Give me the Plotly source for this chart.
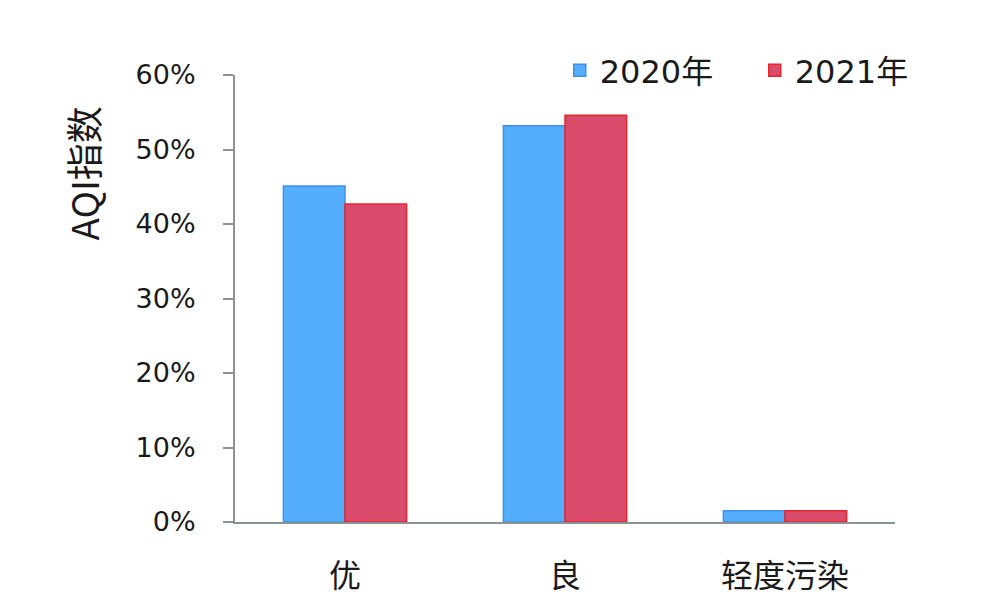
import plotly.graph_objects as go

categories = ["优", "良", "轻度污染"]
series_names = ["2020年", "2021年"]
values_2020 = [45.1, 53.2, 1.5]
values_2021 = [42.7, 54.6, 1.5]
y_ticks = [0, 10, 20, 30, 40, 50, 60]
y_tick_labels = ["0%", "10%", "20%", "30%", "40%", "50%", "60%"]

FONT = "DejaVu Sans, Noto Sans CJK SC, sans-serif"

fig = go.Figure()
fig.add_trace(go.Bar(
    x=categories, y=values_2020, name=series_names[0],
    marker=dict(color="#55AEFB", line=dict(color="#3C8FEA", width=1.5)),
))
fig.add_trace(go.Bar(
    x=categories, y=values_2021, name=series_names[1],
    marker=dict(color="#DA4A6B", line=dict(color="#E5262F", width=1.5)),
))

fig.update_layout(
    width=1000, height=611,
    margin=dict(l=227, r=113, t=67, b=97, autoexpand=False),
    paper_bgcolor="white", plot_bgcolor="white",
    barmode="group", bargap=0.44, bargroupgap=0,
    font=dict(family=FONT, size=24, color="#1a1a1a"),
    showlegend=True,
    legend=dict(orientation="h", x=0.492, xanchor="left", y=1.01, yanchor="middle",
                font=dict(size=32, family=FONT, color="#1a1a1a"),
                itemwidth=30, entrywidth=150, entrywidthmode="pixels",
                traceorder="normal", bgcolor="rgba(0,0,0,0)"),
    xaxis=dict(showline=True, linecolor="#8a9294", linewidth=2, ticks="",
               tickfont=dict(size=32, family="Noto Sans CJK SC, sans-serif", color="#1a1a1a"),
               ticklabelstandoff=25, showgrid=False),
    yaxis=dict(range=[0, 60], tickvals=y_ticks, ticktext=y_tick_labels,
               showline=True, linecolor="#8a9294", linewidth=2,
               ticks="outside", ticklen=10, tickwidth=2, tickcolor="#8a9294",
               ticklabelstandoff=22, showgrid=False, zeroline=False,
               tickfont=dict(size=27, family=FONT, color="#1a1a1a")),
)

fig.add_annotation(
    text="AQI指数", textangle=-90, xref="paper", yref="paper",
    x=-0.23, y=0.78, xanchor="center", yanchor="middle", showarrow=False,
    font=dict(size=37, family="Noto Sans CJK SC, sans-serif", color="#1a1a1a"),
)

fig.write_html("out.html")
